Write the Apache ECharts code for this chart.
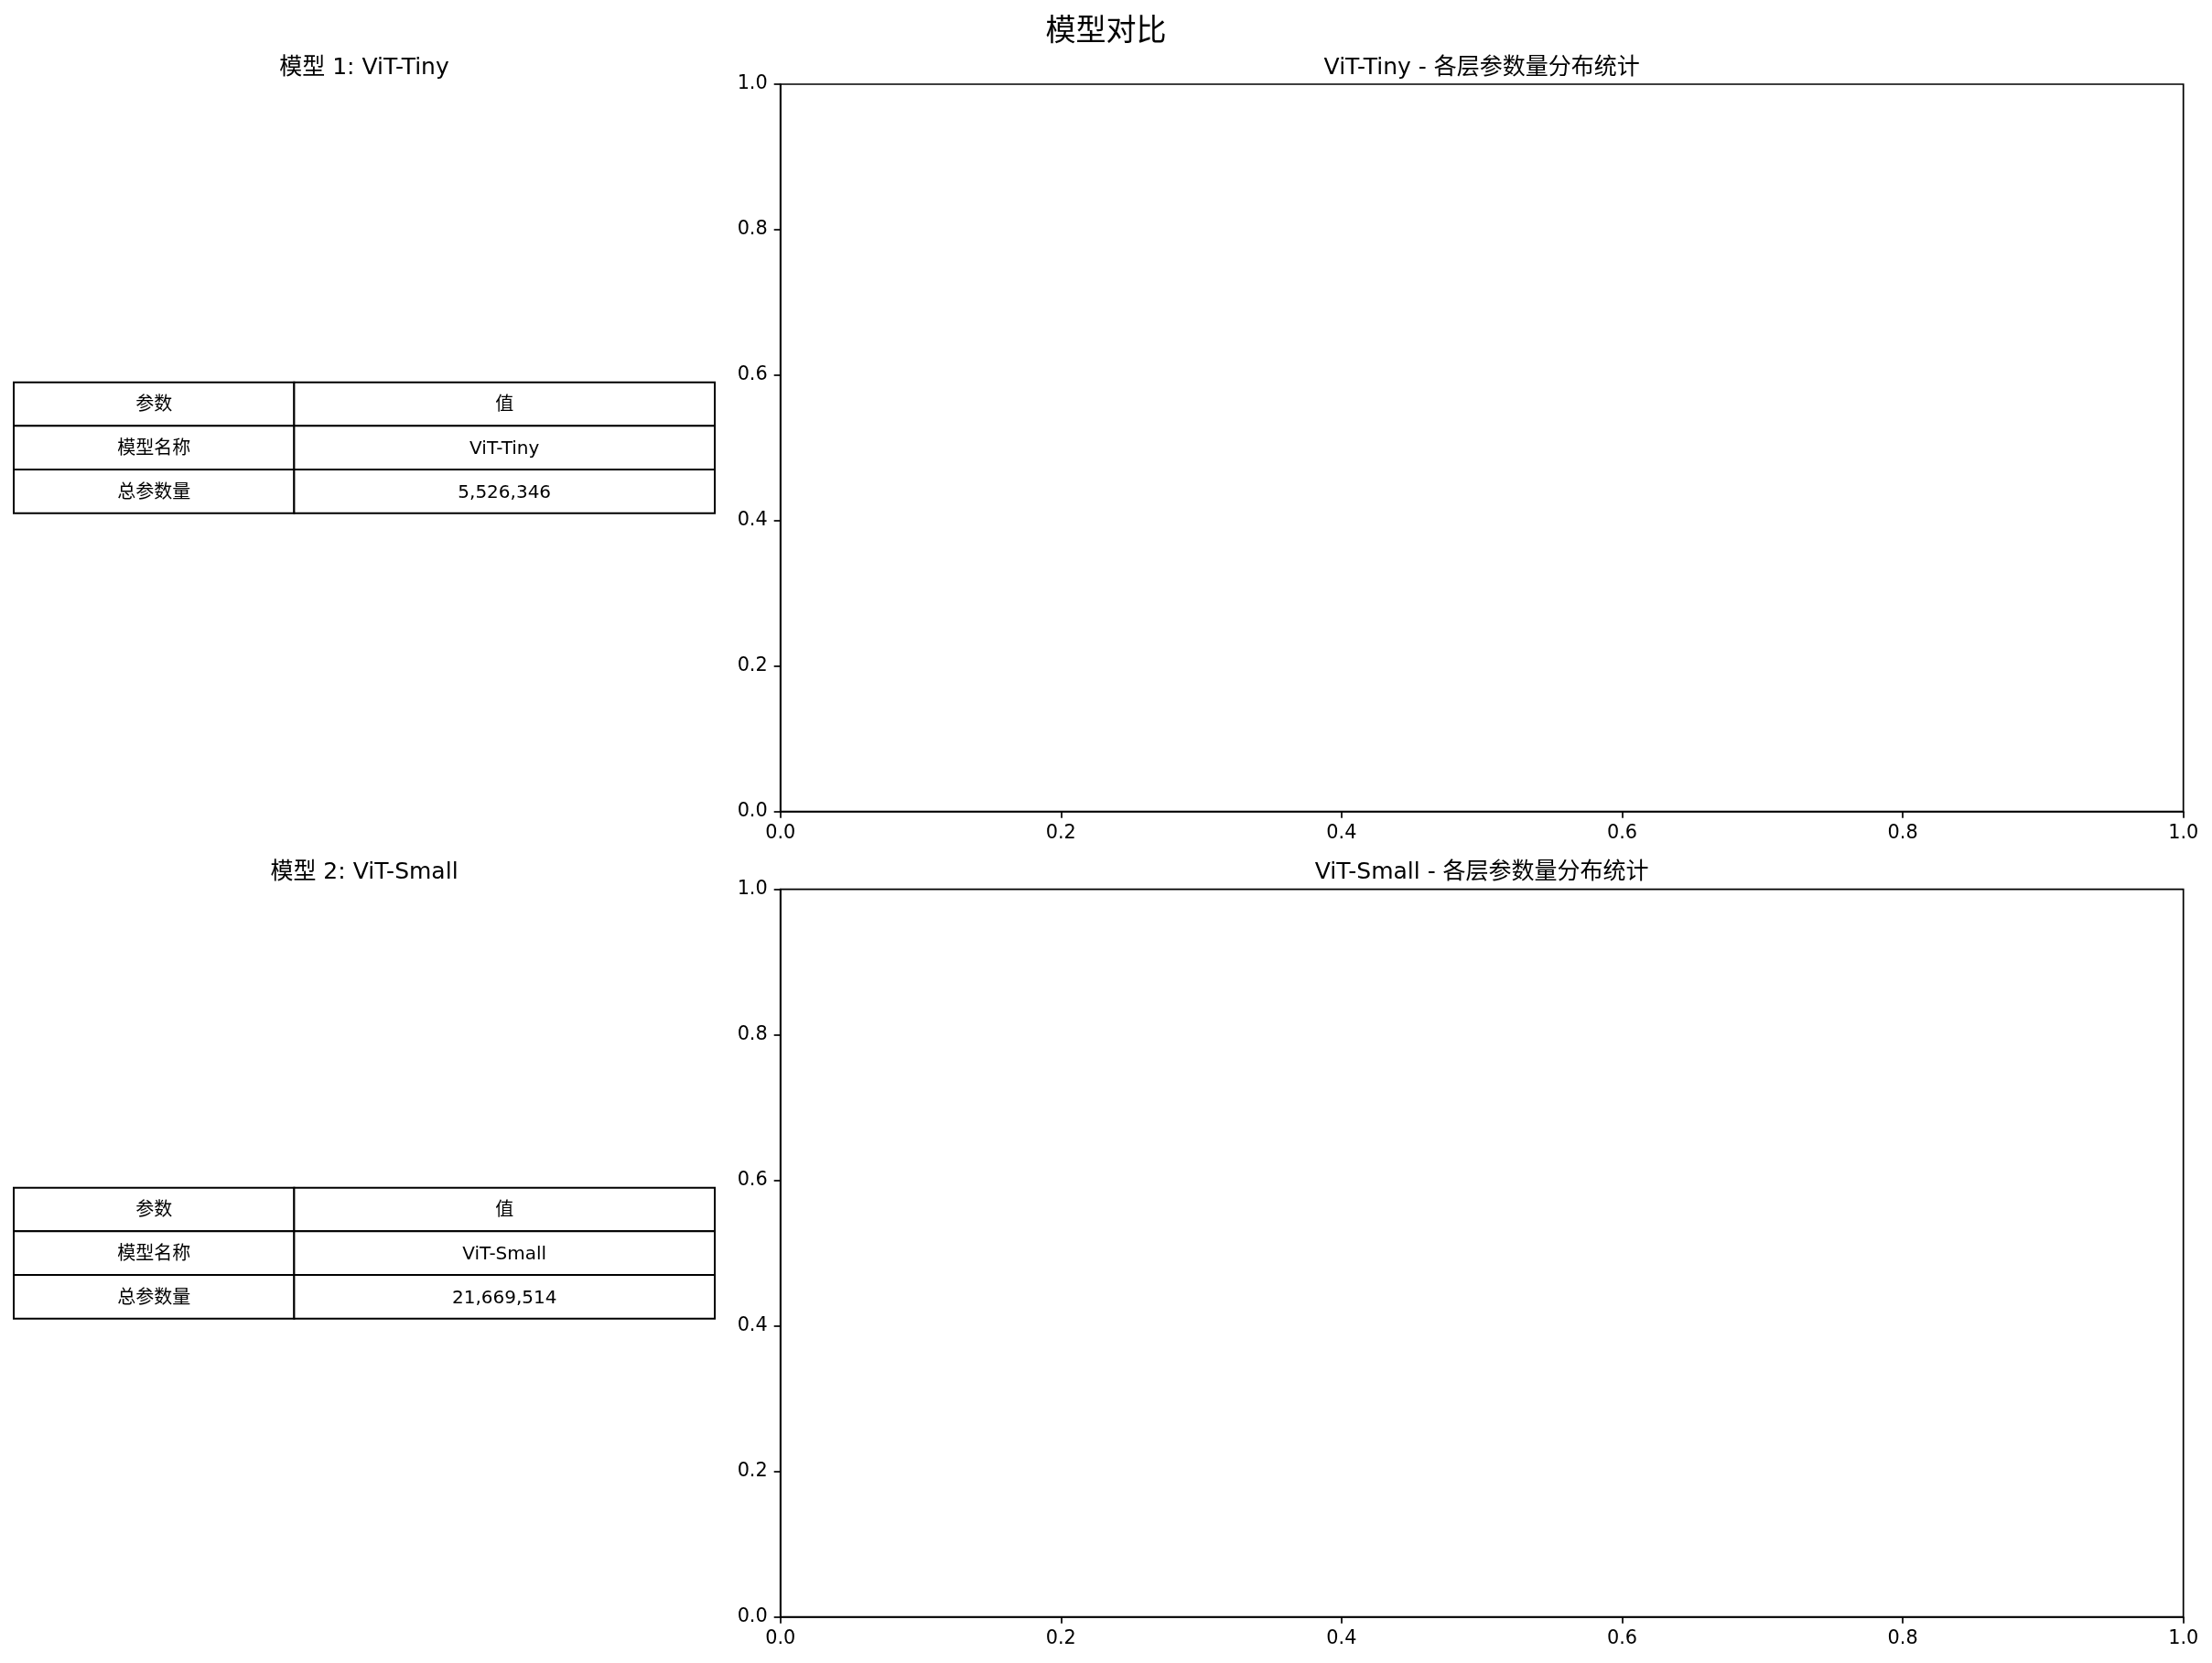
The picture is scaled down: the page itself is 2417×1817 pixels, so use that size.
<!DOCTYPE html>
<html>
<head>
<meta charset="utf-8">
<script src="https://cdn.jsdelivr.net/npm/echarts@6/dist/echarts.min.js"></script>
<style>
html,body{margin:0;padding:0;background:#fff;}
#chart{width:2417px;height:1817px;}
</style>
</head>
<body>
<div id="chart"></div>
<script>
// ---- data ----
const figureTitle = '模型对比';
const modelNames = ['ViT-Tiny', 'ViT-Small'];
const paramCounts = [5526346, 21669514];
const tableHeader = ['参数', '值'];
const rowLabels = ['模型名称', '总参数量'];
const panelPrefix = '模型';
const plotTitleSuffix = '各层参数量分布统计';
const axisTicks = [0.0, 0.2, 0.4, 0.6, 0.8, 1.0];
const plotSeriesData = [[], []];   // the reference plots are empty

// ---- layout ----
const FONT = "'DejaVu Sans', 'Noto Sans CJK SC', sans-serif";
const plotGrids = [
  {left: 852.7, top: 92, width: 1533, height: 794.7},
  {left: 852.7, top: 971.7, width: 1533, height: 795}
];
const tableGrids = [
  {left: 15, top: 417.7, width: 766, height: 143},
  {left: 15, top: 1297.7, width: 766, height: 143}
];
const colEdges = [0, 0.4, 1];

function fmtInt(n){ return n.toLocaleString('en-US'); }

const grids = [], xAxes = [], yAxes = [], series = [], graphics = [];

graphics.push({type:'text', x:1208.5, y:35, style:{text:figureTitle, fontSize:33, fontFamily:FONT, fill:'#000', textAlign:'center', textVerticalAlign:'middle'}});

modelNames.forEach((name, i) => {
  // table grid
  const tg = tableGrids[i];
  grids.push(Object.assign({show:false, containLabel:false}, tg));
  const tgi = grids.length - 1;
  xAxes.push({type:'value', gridIndex:tgi, min:0, max:1, show:false});
  yAxes.push({type:'value', gridIndex:tgi, min:0, max:3, inverse:true, show:false});
  const cells = [
    [0, 0, tableHeader[0]], [1, 0, tableHeader[1]],
    [0, 1, rowLabels[0]], [1, 1, name],
    [0, 2, rowLabels[1]], [1, 2, fmtInt(paramCounts[i])]
  ];
  series.push({
    type:'custom', xAxisIndex:xAxes.length-1, yAxisIndex:yAxes.length-1,
    data: cells.map(c => [c[0], c[1]]),
    silent:true, animation:false,
    renderItem: (params, api) => {
      const c = api.value(0), r = api.value(1);
      const p0 = api.coord([colEdges[c], r]);
      const p1 = api.coord([colEdges[c+1], r+1]);
      const txt = cells[params.dataIndex][2];
      return {type:'group', children:[
        {type:'rect', shape:{x:p0[0], y:p0[1], width:p1[0]-p0[0], height:p1[1]-p0[1]},
         style:{fill:'#fff', stroke:'#000', lineWidth:2}},
        {type:'text', x:(p0[0]+p1[0])/2, y:(p0[1]+p1[1])/2 + 1.5,
         style:{text:txt, fontSize:20, fontFamily:FONT, fill:'#000', textAlign:'center', textVerticalAlign:'middle'}}
      ]};
    }
  });

  // plot grid
  const pg = plotGrids[i];
  grids.push(Object.assign({show:true, borderColor:'#000', borderWidth:1.7, backgroundColor:'#fff', containLabel:false}, pg));
  const pgi = grids.length - 1;
  const axisCommon = {
    type:'value', gridIndex:pgi, min:axisTicks[0], max:axisTicks[axisTicks.length-1], interval:0.2,
    axisLine:{show:true, onZero:false, lineStyle:{color:'#000', width:1.7}},
    axisTick:{show:true, inside:false, length:7, lineStyle:{color:'#000', width:1.7}},
    splitLine:{show:false},
    axisLabel:{show:true, margin:14, color:'#000', fontSize:20.8, fontFamily:FONT,
      formatter: v => Number(v).toFixed(1)}
  };
  xAxes.push(Object.assign({position:'bottom'}, axisCommon));
  yAxes.push(Object.assign({position:'left'}, axisCommon));
  series.push({type:'line', xAxisIndex:xAxes.length-1, yAxisIndex:yAxes.length-1, data:plotSeriesData[i]});

  // titles
  const tableCenter = tg.left + tg.width/2;
  const plotCenter = pg.left + pg.width/2;
  const titleY = pg.top - 18;
  graphics.push({type:'text', x:tableCenter, y:titleY, style:{text:panelPrefix + ' ' + (i+1) + ': ' + name, fontSize:25, fontFamily:FONT, fill:'#000', textAlign:'center', textVerticalAlign:'middle'}});
  graphics.push({type:'text', x:plotCenter, y:titleY, style:{text:name + ' - ' + plotTitleSuffix, fontSize:25, fontFamily:FONT, fill:'#000', textAlign:'center', textVerticalAlign:'middle'}});
});

const chart = echarts.init(document.getElementById('chart'), null, {renderer:'canvas'});
chart.setOption({
  animation:false,
  backgroundColor:'#fff',
  textStyle:{fontFamily:FONT},
  grid:grids, xAxis:xAxes, yAxis:yAxes, series:series, graphic:graphics
});
</script>
</body>
</html>
